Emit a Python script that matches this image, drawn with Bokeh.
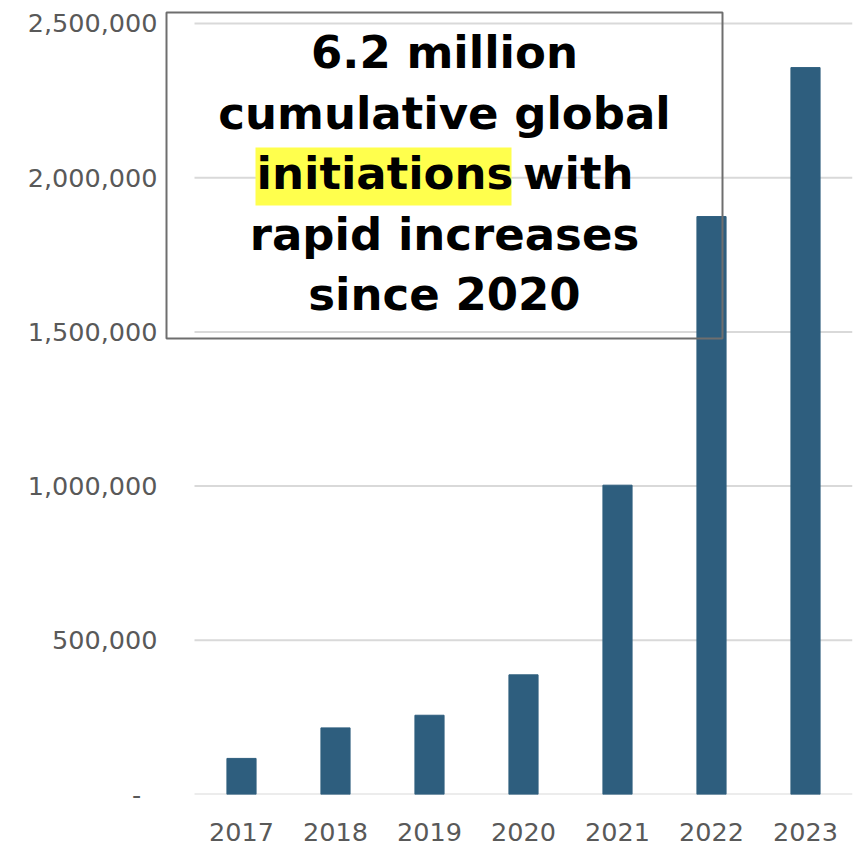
from bokeh.plotting import figure
from bokeh.models import Range1d, FixedTicker, BoxAnnotation, Label, ColumnDataSource
from bokeh.embed import file_html
from bokeh.resources import INLINE

# ---- data ----
years = ["2017", "2018", "2019", "2020", "2021", "2022", "2023"]
initiations = [117000, 216000, 257000, 388000, 1003000, 1874000, 2357000]
y_ticks = [0, 500000, 1000000, 1500000, 2000000, 2500000]
y_tick_labels = ["-\u00a0\u00a0", "500,000", "1,000,000", "1,500,000", "2,000,000", "2,500,000"]
headline_lines = ["6.2 million", "cumulative global", "initiations", "with", "rapid increases", "since 2020"]

BAR_COLOR = "#2E5E7E"
TICK_COLOR = "#595959"
GRID_COLOR = "#D9D9D9"
FONT = "DejaVu Sans"

positions = list(range(len(years)))
source = ColumnDataSource(data=dict(pos=positions, value=initiations))
grid_src = ColumnDataSource(data=dict(y=y_ticks,
                                      x0=[-0.5] * len(y_ticks),
                                      x1=[len(years) - 0.5] * len(y_ticks)))

# frame spans from the text box's left edge to the right of the last bar
p = figure(
    x_range=Range1d(-0.5 - 31 / 94, len(years) - 0.5),
    y_range=Range1d(0, 2542150),
    frame_width=689,
    frame_height=784,
    min_border_left=163,
    min_border_right=9,
    min_border_top=10,
    min_border_bottom=51,
    output_backend="svg",
    toolbar_location=None,
    outline_line_color=None,
    background_fill_color="white",
    border_fill_color="white",
)

p.xgrid.grid_line_color = None
p.ygrid.grid_line_color = None

# horizontal grid lines spanning the category band only
p.segment(x0="x0", x1="x1", y0="y", y1="y", source=grid_src,
          line_color=GRID_COLOR, line_width=2)

p.vbar(x="pos", top="value", width=0.31, source=source,
       fill_color=BAR_COLOR, line_color=BAR_COLOR, line_width=1)

# y axis
p.yaxis.ticker = FixedTicker(ticks=y_ticks)
p.yaxis.major_label_overrides = {float(t): lab for t, lab in zip(y_ticks, y_tick_labels)}
p.yaxis.axis_line_color = None
p.yaxis.major_tick_line_color = None
p.yaxis.minor_tick_line_color = None
p.yaxis.major_tick_out = 0
p.yaxis.major_tick_in = 0
p.yaxis.major_label_standoff = 6
p.yaxis.major_label_text_font = FONT
p.yaxis.major_label_text_font_size = "25.5px"
p.yaxis.major_label_text_color = TICK_COLOR

# x axis
p.xaxis.ticker = FixedTicker(ticks=positions)
p.xaxis.major_label_overrides = {float(i): y for i, y in zip(positions, years)}
p.xaxis.axis_line_color = None
p.xaxis.major_tick_line_color = None
p.xaxis.minor_tick_line_color = None
p.xaxis.major_tick_out = 0
p.xaxis.major_tick_in = 0
p.xaxis.major_label_standoff = 28
p.xaxis.major_label_text_font = FONT
p.xaxis.major_label_text_font_size = "25.5px"
p.xaxis.major_label_text_color = TICK_COLOR

# highlight behind "initiations"
p.add_layout(BoxAnnotation(left=255, right=511, top=147, bottom=205,
                           left_units="canvas", right_units="canvas",
                           top_units="canvas", bottom_units="canvas",
                           fill_color="#FFFF4D", fill_alpha=1.0,
                           line_color=None, line_alpha=0))

title_kw = dict(x_units="canvas", y_units="canvas", text_font=FONT, text_font_style="bold",
                text_font_size="45px", text_color="black", text_baseline="alphabetic")
dy = -19
p.add_layout(Label(x=444, y=71 + dy, text=headline_lines[0], text_align="center", **title_kw))
p.add_layout(Label(x=444, y=132 + dy, text=headline_lines[1], text_align="center", **title_kw))
p.add_layout(Label(x=256, y=192 + dy, text=headline_lines[2], text_align="left", **title_kw))
p.add_layout(Label(x=633, y=192 + dy, text=headline_lines[3], text_align="right", **title_kw))
p.add_layout(Label(x=444, y=253 + dy, text=headline_lines[4], text_align="center", **title_kw))
p.add_layout(Label(x=444, y=313 + dy, text=headline_lines[5], text_align="center", **title_kw))

# text box border
p.add_layout(BoxAnnotation(left=166, right=722, top=12, bottom=338,
                           left_units="canvas", right_units="canvas",
                           top_units="canvas", bottom_units="canvas",
                           fill_alpha=0, line_color="#6E6E6E", line_alpha=1.0,
                           line_width=2))

open("out.html", "w").write(file_html(p, INLINE))
